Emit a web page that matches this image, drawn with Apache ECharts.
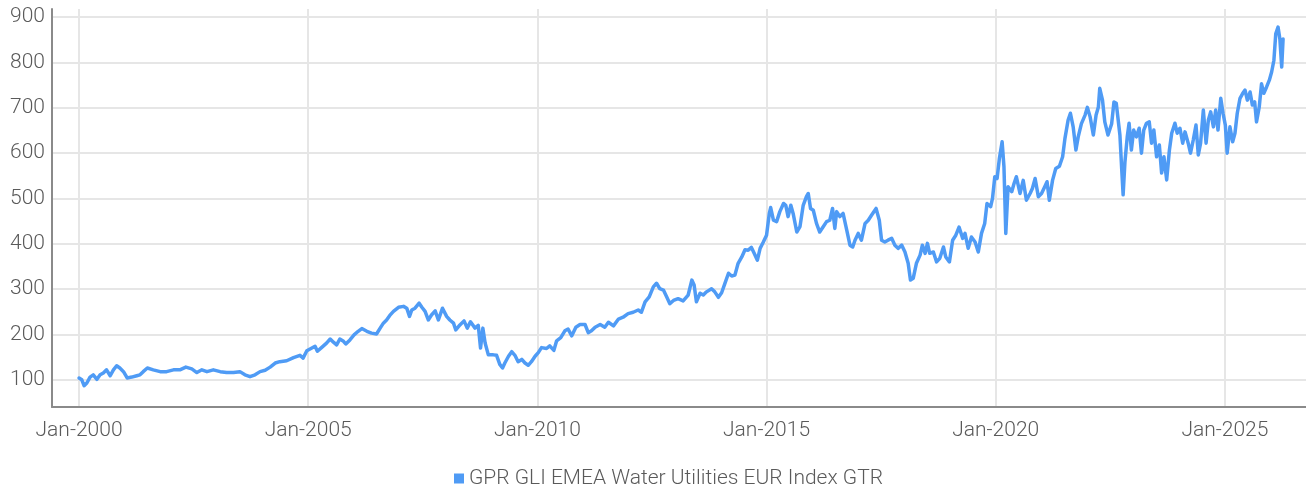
<!DOCTYPE html>
<html>
<head>
<meta charset="utf-8">
<script src="https://cdn.jsdelivr.net/npm/echarts@6/dist/echarts.min.js"></script>
<style>
html,body{margin:0;padding:0;background:#fff;}
#chart{width:1306px;height:493px;}
</style>
</head>
<body>
<div id="chart"></div>
<script>
const seriesName = 'GPR GLI EMEA Water Utilities EUR Index GTR';
const xTickYears = [2000, 2005, 2010, 2015, 2020, 2025];
const yTicks = [100, 200, 300, 400, 500, 600, 700, 800, 900];

const years = [
2000.00,2000.06,2000.11,2000.17,2000.24,2000.31,2000.39,2000.46,2000.53,2000.60,2000.68,2000.75,2000.82,2000.89,2000.97,
2001.05,2001.15,2001.26,2001.33,2001.40,2001.49,2001.62,2001.77,2001.91,2002.06,2002.20,2002.33,2002.46,2002.57,2002.68,
2002.79,2002.93,2003.08,2003.22,2003.37,2003.51,2003.62,2003.73,2003.84,2003.95,2004.06,2004.17,2004.28,
2004.38,2004.53,2004.68,2004.82,2004.89,2004.97,2005.08,2005.15,2005.20,2005.29,2005.40,2005.48,2005.55,2005.62,2005.69,
2005.77,2005.82,2005.91,2006.00,2006.09,2006.17,2006.28,2006.38,2006.49,2006.57,2006.64,2006.71,2006.78,2006.86,2006.97,
2007.08,2007.15,2007.21,2007.26,2007.33,2007.42,2007.48,2007.55,2007.62,2007.69,2007.77,2007.84,2007.93,2008.02,2008.09,
2008.17,2008.22,2008.31,2008.40,2008.47,2008.54,2008.64,2008.71,2008.76,2008.81,2008.86,2008.93,
2009.04,2009.11,2009.18,2009.24,2009.29,2009.37,2009.44,2009.51,2009.58,2009.66,2009.73,2009.80,2009.87,2009.95,
2010.02,2010.09,2010.20,2010.27,2010.36,2010.42,2010.51,2010.60,2010.67,2010.75,2010.84,2010.93,2011.04,2011.11,2011.18,
2011.26,2011.37,2011.47,2011.55,2011.66,2011.77,2011.87,2011.98,2012.09,2012.20,2012.27,2012.35,2012.44,2012.53,2012.60,
2012.67,2012.75,2012.82,2012.89,2012.97,2013.07,2013.18,2013.29,2013.37,2013.42,2013.47,
2013.55,2013.62,2013.69,2013.80,2013.87,2013.95,2014.02,2014.09,2014.17,2014.24,2014.31,2014.38,2014.46,2014.53,2014.60,
2014.67,2014.73,2014.80,2014.86,2014.93,2015.00,2015.06,2015.09,2015.15,2015.22,2015.29,2015.37,2015.42,2015.47,2015.53,
2015.58,2015.66,2015.73,2015.80,2015.87,2015.91,2015.96,2016.02,2016.09,2016.16,2016.24,2016.31,2016.38,2016.44,2016.49,
2016.53,2016.60,2016.67,2016.75,2016.82,2016.88,2016.93,2017.00,2017.07,2017.15,2017.22,2017.29,2017.39,2017.46,2017.51,
2017.58,2017.65,2017.73,2017.80,2017.87,2017.95,2018.02,2018.09,2018.14,2018.20,
2018.27,2018.35,2018.40,2018.46,2018.51,2018.56,2018.64,2018.71,2018.78,2018.86,2018.91,2018.99,2019.06,2019.13,2019.20,
2019.28,2019.33,2019.40,2019.47,2019.55,2019.62,2019.69,2019.76,2019.81,2019.89,2019.93,2019.98,2020.03,2020.08,2020.14,
2020.18,2020.22,2020.27,2020.35,2020.40,2020.45,2020.53,2020.60,2020.67,2020.75,2020.80,2020.86,2020.93,2021.00,2021.07,
2021.12,2021.17,2021.24,2021.31,2021.39,2021.46,2021.51,2021.58,2021.63,2021.69,2021.75,2021.80,2021.87,2021.95,2022.00,
2022.06,2022.13,2022.19,2022.24,2022.27,2022.33,2022.38,2022.45,2022.53,2022.58,2022.63,2022.71,
2022.75,2022.78,2022.82,2022.87,2022.91,2022.96,2023.01,2023.07,2023.13,2023.18,2023.23,2023.29,2023.35,2023.40,2023.45,
2023.51,2023.57,2023.62,2023.67,2023.73,2023.79,2023.84,2023.91,2023.96,2024.02,2024.08,2024.13,2024.20,2024.25,2024.31,
2024.37,2024.42,2024.47,2024.53,2024.59,2024.64,2024.69,2024.75,2024.80,2024.85,2024.91,2024.96,2025.01,2025.05,2025.11,
2025.17,2025.22,2025.27,2025.33,2025.39,2025.44,2025.49,2025.55,2025.60,2025.65,2025.69,2025.75,2025.80,2025.85,2025.91,
2025.97,2026.02,2026.07,2026.11,2026.16,2026.20,2026.24,2026.27
];

const values = [
104,100,87,93,106,111,101,111,115,122,109,122,131,126,118,
104,106,109,111,118,126,122,118,118,122,122,128,124,116,122,
118,122,118,116,116,118,111,107,111,118,121,128,137,
140,142,149,154,148,164,170,174,163,171,181,190,183,177,190,
185,179,188,199,207,213,207,203,201,214,225,232,242,251,260,
262,258,240,254,258,269,260,251,232,243,252,232,258,240,232,
225,210,221,230,214,228,214,220,170,214,181,155,
155,154,134,126,137,152,162,154,140,145,137,132,140,152,
160,171,169,175,165,186,193,208,212,197,216,222,222,204,208,
216,222,216,227,219,234,238,246,249,254,249,272,283,305,313,
301,298,283,268,275,279,274,287,320,309,272,
291,287,294,301,294,282,292,312,335,329,331,357,371,387,386,
392,379,364,390,404,419,467,480,452,449,471,489,485,460,485,
467,426,438,485,504,511,478,474,445,426,438,449,452,478,434,
471,460,467,430,397,393,408,423,408,445,452,463,478,452,408,
404,408,412,397,390,397,382,357,320,324,
357,375,397,379,401,379,382,360,368,393,371,360,408,419,437,
412,423,390,415,404,382,423,445,489,482,500,548,544,588,625,
570,423,526,515,533,548,511,540,496,511,522,544,504,511,526,
537,496,540,566,571,592,632,673,688,658,607,636,665,684,701,
680,640,684,702,743,717,669,640,665,713,710,640,
563,508,581,636,666,607,651,636,655,600,651,666,669,622,651,
592,618,556,592,541,607,644,666,644,655,622,647,622,600,629,
662,596,622,695,622,673,691,658,695,651,721,688,662,600,658,
625,644,688,721,732,739,717,735,706,713,669,702,753,732,746,
761,779,805,863,878,852,790,852
];

const FONT = 'Roboto, "Noto Sans", sans-serif';
const TXT = '#5a5a5a';

const chart = echarts.init(document.getElementById('chart'), null, {renderer: 'canvas'});
chart.setOption({
  animation: false,
  backgroundColor: '#ffffff',
  textStyle: {fontFamily: FONT},
  grid: {left: 52, right: 0, top: 9, bottom: 86, containLabel: false},
  legend: {
    data: [seriesName],
    left: 449, top: 463,
    icon: 'rect', itemWidth: 10, itemHeight: 10,
    textStyle: {fontFamily: FONT, fontSize: 21, fontWeight: 300, color: TXT}
  },
  xAxis: {
    type: 'value',
    min: 1999.41, max: 2026.77,
    splitNumber: 5,
    axisLine: {show: true, lineStyle: {color: '#8a8a8a', width: 2}},
    axisTick: {show: false},
    axisLabel: {
      showMinLabel: false, showMaxLabel: false,
      margin: 13, fontSize: 21, fontWeight: 300, color: TXT, fontFamily: FONT,
      formatter: v => xTickYears.indexOf(Math.round(v)) >= 0 ? 'Jan-' + Math.round(v) : ''
    },
    splitLine: {show: true, showMinLine: false, showMaxLine: false, lineStyle: {color: '#e6e6e6', width: 2}}
  },
  yAxis: {
    type: 'value',
    min: 40, max: 918,
    splitNumber: 9,
    axisLine: {show: true, lineStyle: {color: '#8a8a8a', width: 2}},
    axisTick: {show: false},
    axisLabel: {
      showMinLabel: false, showMaxLabel: false,
      margin: 7, fontSize: 21, fontWeight: 300, color: TXT, fontFamily: FONT,
      formatter: v => yTicks.indexOf(Math.round(v)) >= 0 ? String(Math.round(v)) : ''
    },
    splitLine: {show: true, showMinLine: false, showMaxLine: false, lineStyle: {color: '#e6e6e6', width: 2}}
  },
  series: [{
    name: seriesName,
    type: 'line',
    data: years.map((y, i) => [y, values[i]]),
    showSymbol: false,
    symbol: 'none',
    sampling: 'none',
    lineStyle: {color: '#4f9bf5', width: 3.5, join: 'round', cap: 'round'},
    itemStyle: {color: '#4f9bf5'},
    z: 3
  }]
});
</script>
</body>
</html>
